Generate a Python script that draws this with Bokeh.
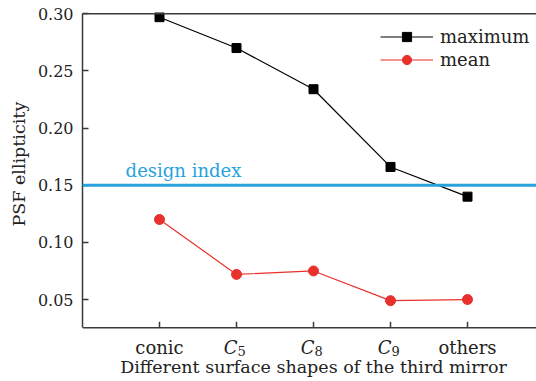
from bokeh.plotting import figure
from bokeh.models import (FixedTicker, Span, Label, Legend, LegendItem, Title,
                          ColumnDataSource, NumeralTickFormatter)
from bokeh.core.properties import value
from bokeh.embed import file_html
from bokeh.resources import INLINE

# ---- data ----
categories = ["conic", "C5", "C8", "C9", "others"]
tick_main = ["conic", "C", "C", "C", "others"]
tick_sub = ["", "5", "8", "9", ""]
maximum = [0.297, 0.270, 0.234, 0.166, 0.140]
mean = [0.120, 0.072, 0.075, 0.049, 0.050]
design_index = 0.15
y_ticks = [0.05, 0.10, 0.15, 0.20, 0.25, 0.30]
x_title = "Different surface shapes of the third mirror"
y_title = "PSF ellipticity"

FONT = "DejaVu Serif"
AX = "#3a3a3a"
TXT = "#222222"
BLUE = "#27a2dc"
RED = "#e8312c"

y_axis_bottom = 0.0253          # where the visible x axis sits
y_top = y_ticks[-1]

xs = list(range(1, len(categories) + 1))
src = ColumnDataSource(dict(x=xs, maximum=maximum, mean=mean, cat=categories))
lab = ColumnDataSource(dict(
    x=xs,
    y=[y_axis_bottom] * len(xs),
    upright=[m if not s else "" for m, s in zip(tick_main, tick_sub)],
    italic=[m if s else "" for m, s in zip(tick_main, tick_sub)],
    sub=tick_sub,
))

p = figure(width=536, height=381, output_backend="svg", toolbar_location=None,
           x_range=(0, 5.896), y_range=(-0.0217, 0.3011),
           x_axis_location=None,
           min_border_left=82, min_border_right=0, min_border_top=12,
           min_border_bottom=0)
p.outline_line_color = None
p.grid.visible = False
p.background_fill_color = "white"

# left axis
ya = p.yaxis[0]
ya.ticker = FixedTicker(ticks=y_ticks)
ya.formatter = NumeralTickFormatter(format="0.00")
ya.bounds = (y_axis_bottom, y_top)
ya.major_tick_in = 6
ya.major_tick_out = 0
ya.minor_tick_line_color = None
ya.axis_line_color = AX
ya.axis_line_width = 1.5
ya.major_tick_line_color = AX
ya.major_tick_line_width = 1.5
ya.major_label_text_font = FONT
ya.major_label_text_font_size = "16px"
ya.major_label_text_color = TXT
ya.major_label_standoff = 9

# y axis title, centred on the visible axis (not on the whole frame)
p.add_layout(Title(text=y_title, align="left", offset=381 - 226,
                   vertical_align="bottom", standoff=12,
                   text_font=FONT, text_font_size="17.5px",
                   text_font_style="normal", text_color=TXT), "left")

# top border and bottom axis line
p.add_layout(Span(location=y_top, dimension="width", line_color=AX, line_width=1.5))
p.add_layout(Span(location=y_axis_bottom, dimension="width", line_color=AX, line_width=1.5))
# bottom axis ticks (pointing inward)
p.ray(x="x", y="y", source=lab, length=6, length_units="screen", angle=90,
      angle_units="deg", line_color=AX, line_width=1.5)

# bottom tick labels
common = dict(source=lab, text_font=value(FONT), text_color=TXT,
              text_baseline="alphabetic")
p.text(x="x", y="y", text="upright", y_offset=20, text_align="center",
       text_font_size=value("18px"), **common)
p.text(x="x", y="y", text="italic", y_offset=20, x_offset=1, text_align="right",
       text_font_size=value("18px"), text_font_style="italic", **common)
p.text(x="x", y="y", text="sub", y_offset=23, x_offset=1, text_align="left",
       text_font_size=value("13px"), **common)
# bottom axis title
p.text(x=[xs[len(xs) // 2]], y=[y_axis_bottom], text=[x_title], y_offset=39,
       text_align="center", text_baseline="alphabetic", text_font=value(FONT),
       text_font_size=value("17.5px"), text_color=TXT)

# design index line
p.add_layout(Span(location=design_index, dimension="width", line_color=BLUE, line_width=3))
p.add_layout(Label(x=0.56, y=design_index + 0.0131, text="design index",
                   text_font=FONT, text_font_size="18px", text_color=BLUE,
                   text_baseline="alphabetic"))

# series
l1 = p.line("x", "maximum", source=src, line_color="black", line_width=1.2)
m1 = p.scatter("x", "maximum", source=src, marker="square", size=9,
               fill_color="black", line_color="black")
l2 = p.line("x", "mean", source=src, line_color=RED, line_width=1.2)
m2 = p.scatter("x", "mean", source=src, marker="circle", size=10,
               fill_color=RED, line_color=RED)

legend = Legend(items=[LegendItem(label="maximum", renderers=[l1, m1]),
                       LegendItem(label="mean", renderers=[l2, m2])],
                location=(298, 310), padding=0, spacing=0, margin=0,
                glyph_width=53, glyph_height=23, label_height=23, label_standoff=7,
                border_line_color=None, background_fill_alpha=0,
                label_text_font=FONT, label_text_font_size="18px",
                label_text_color=TXT)
p.add_layout(legend)

open("out.html", "w").write(file_html(p, INLINE))
